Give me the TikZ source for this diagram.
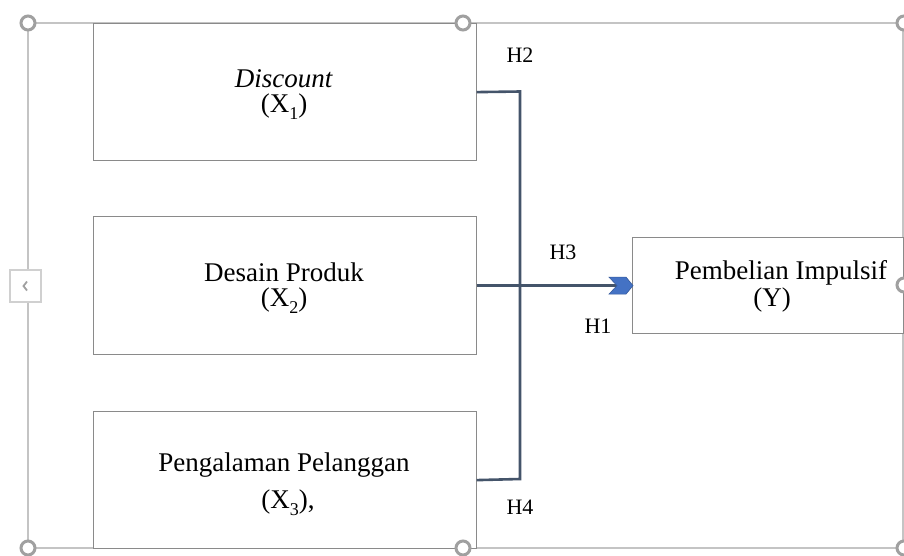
\documentclass[tikz,border=0pt]{standalone}
\usepackage{fontspec}
\setmainfont{Liberation Serif}
\usetikzlibrary{arrows.meta}
\definecolor{framegray}{HTML}{C4C4C4}
\definecolor{handlegray}{HTML}{A0A0A0}
\definecolor{boxgray}{HTML}{8A8A8A}
\definecolor{navy}{HTML}{44546A}
\definecolor{tipblue}{HTML}{4472C4}
\newcommand{\subidx}[1]{\raisebox{-0.28em}{\fontsize{18}{18}\selectfont #1}}
\tikzset{
  framebox/.style={draw=framegray, line width=1.5pt},
  handle/.style={circle, draw=handlegray, fill=white, line width=3pt, minimum size=14pt, inner sep=0pt},
  varbox/.style={draw=boxgray, line width=1.2pt, fill=white, rectangle, inner sep=0pt, anchor=north west},
  maintext/.style={font=\fontsize{27}{32}\selectfont, anchor=base, inner sep=0pt},
  htext/.style={font=\fontsize{22}{26}\selectfont, anchor=base, inner sep=0pt},
  conn/.style={draw=navy, line width=2.6pt},
  chevtip/.style={fill=tipblue, draw=tipblue!80!black, line width=0.6pt, line join=miter},
}
\begin{document}
\begin{tikzpicture}[x=1pt,y=-1pt]
\useasboundingbox (0,0) rectangle (904,555);
\fill[white] (0,0) rectangle (904,555);
% selection frame
\draw[framebox] (28,23) rectangle (903,548);
% variable boxes
\node[varbox, minimum width=383pt, minimum height=137pt] (b1) at (92.5,23) {};
\node[varbox, minimum width=383pt, minimum height=138pt] (b2) at (92.5,216) {};
\node[varbox, minimum width=383pt, minimum height=137pt] (b3) at (92.5,411) {};
\node[varbox, minimum width=271pt, minimum height=96pt] (y) at (632,237) {};
% texts
\node[maintext] (t1a) at (284,87) {\textit{Discount}};
\node[maintext] (t1b) at (284,112) {(X\subidx{1})};
\node[maintext] (t2a) at (284,281) {Desain Produk};
\node[maintext] (t2b) at (284,306) {(X\subidx{2})};
\node[maintext] (t3a) at (284,471) {Pengalaman Pelanggan};
\node[maintext] (t3b) at (288,508) {(X\subidx{3}),};
\node[maintext] (tya) at (781,279) {Pembelian Impulsif};
\node[maintext] (tyb) at (772,306) {(Y)};
% hypothesis labels
\node[htext] (h2) at (520,62) {H2};
\node[htext] (h3) at (563,259) {H3};
\node[htext] (h1) at (598,333) {H1};
\node[htext] (h4) at (520,514) {H4};
% connectors
\coordinate (bt) at (520,91.5);
\coordinate (bb) at (520,479);
\draw[conn] (b1.east) -- (bt) -- (bb) -- (b3.east);
\draw[conn] (b2.east) -- ([xshift=-13pt]y.west);
\fill[chevtip] ([xshift=1pt]y.west) -- ++(-7,-8.5) -- ++(-17,0) -- ++(8,8.5) -- ++(-8,8.5) -- ++(17,0) -- cycle;
% handles
\node[handle] (hd1) at (28,23) {};
\node[handle] (hd2) at (463,23) {};
\node[handle] (hd3) at (904,23) {};
\node[handle] (hd4) at (28,548) {};
\node[handle] (hd5) at (463,548) {};
\node[handle] (hd6) at (904,548) {};
\node[handle] (hd7) at (904,285) {};
% left layout button
\node[draw=framegray!80, fill=white, line width=1.2pt, minimum width=31pt, minimum height=32pt, inner sep=0pt] (btn) at (25.5,286) {};
\draw[handlegray, line width=1.8pt] (27,281.5) -- (23.5,286) -- (27,290.5);
\end{tikzpicture}
\end{document}
